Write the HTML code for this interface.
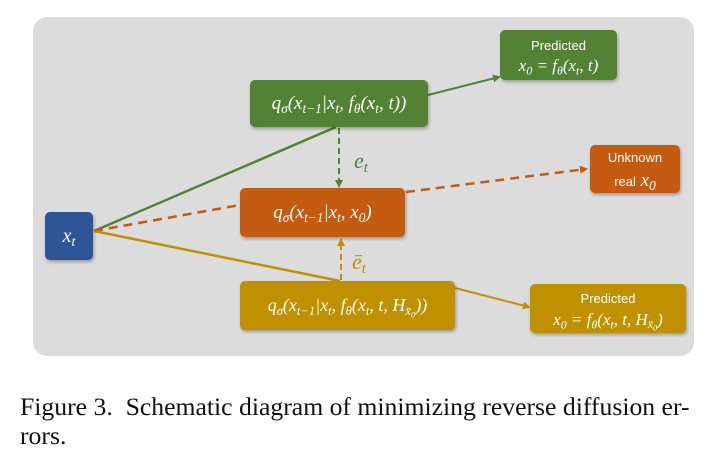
<!DOCTYPE html>
<html><head><style>
body{margin:0;background:#fff;width:711px;height:457px;overflow:hidden;position:relative;font-family:"Liberation Sans",sans-serif}
.p{position:absolute;left:33px;top:17px;width:661px;height:339px;background:#dcdcdc;border-radius:14px}
.b{position:absolute;border-radius:5px;color:#fff;display:flex;align-items:center;justify-content:center;text-align:center;box-shadow:1px 2px 3px rgba(0,0,0,.3);font-family:"Liberation Serif",serif;font-style:italic;font-size:19px;line-height:1.25;white-space:nowrap}
.b sub{font-size:70%;vertical-align:-0.3em;line-height:0}
.s{font-family:"Liberation Sans",sans-serif;font-style:normal;font-size:13px}
.g{background:#548235}.o{background:#c55a11}.y{background:#bf9000}.bl{background:#2f5597}
.cap{position:absolute;left:20px;font-family:"Liberation Serif",serif;font-size:25.7px;color:#111;white-space:nowrap}
</style></head><body>
<div class="p"></div>
<svg width="711" height="457" style="position:absolute;left:0;top:0">
<defs>
<marker id="mg" markerWidth="8" markerHeight="8" refX="6" refY="4" orient="auto" markerUnits="userSpaceOnUse"><path d="M0,0L8,4L0,8z" fill="#548235"/></marker>
<marker id="mo" markerWidth="8" markerHeight="8" refX="6" refY="4" orient="auto" markerUnits="userSpaceOnUse"><path d="M0,0L8,4L0,8z" fill="#c55a11"/></marker>
<marker id="my" markerWidth="8" markerHeight="8" refX="6" refY="4" orient="auto" markerUnits="userSpaceOnUse"><path d="M0,0L8,4L0,8z" fill="#bf9000"/></marker>
</defs>
<line x1="94" y1="231" x2="336" y2="127" stroke="#548235" stroke-width="2.5"/>
<line x1="428" y1="95" x2="499" y2="77" stroke="#548235" stroke-width="2" marker-end="url(#mg)"/>
<line x1="339" y1="128" x2="339" y2="186" stroke="#548235" stroke-width="2" stroke-dasharray="6,4" marker-end="url(#mg)"/>
<line x1="94" y1="231" x2="240" y2="205" stroke="#c55a11" stroke-width="2.5" stroke-dasharray="9,6"/>
<line x1="406" y1="192" x2="586" y2="169" stroke="#c55a11" stroke-width="2.5" stroke-dasharray="9,6" marker-end="url(#mo)"/>
<line x1="94" y1="231" x2="340" y2="281" stroke="#bf9000" stroke-width="2.5"/>
<line x1="455" y1="288" x2="529" y2="307" stroke="#bf9000" stroke-width="2" marker-end="url(#my)"/>
<line x1="341" y1="280" x2="341" y2="240" stroke="#bf9000" stroke-width="2" stroke-dasharray="6,4" marker-end="url(#my)"/>
<text x="354" y="168" font-family="Liberation Serif" font-style="italic" font-size="22" fill="#548235">e<tspan font-size="15" dy="4">t</tspan></text>
<text x="352" y="269" font-family="Liberation Serif" font-style="italic" font-size="22" fill="#bf9000">ē<tspan font-size="15" dy="4">t</tspan></text>
</svg>
<div class="b g" style="left:250px;top:80px;width:178px;height:47px"><span>q<sub>σ</sub>(x<sub>t−1</sub>|x<sub>t</sub>, f<sub>θ</sub>(x<sub>t</sub>, t))</span></div>
<div class="b g" style="left:500px;top:30px;width:117px;height:50px;font-size:17px"><div><span class="s">Predicted</span><br>x<sub>0</sub> = f<sub>θ</sub>(x<sub>t</sub>, t)</div></div>
<div class="b o" style="left:240px;top:188px;width:165px;height:49px"><span>q<sub>σ</sub>(x<sub>t−1</sub>|x<sub>t</sub>, x<sub>0</sub>)</span></div>
<div class="b o" style="left:590px;top:145px;width:90px;height:48px"><div><span class="s">Unknown</span><br><span class="s">real</span> x<sub>0</sub></div></div>
<div class="b bl" style="left:45px;top:212px;width:48px;height:48px;font-size:20px"><span>x<sub>t</sub></span></div>
<div class="b y" style="left:240px;top:281px;width:215px;height:49px;font-size:18px"><span>q<sub>σ</sub>(x<sub>t−1</sub>|x<sub>t</sub>, f<sub>θ</sub>(x<sub>t</sub>, t, H<sub>x̄<sub>0</sub></sub>))</span></div>
<div class="b y" style="left:530px;top:284px;width:156px;height:49px;font-size:17px"><div><span class="s">Predicted</span><br>x<sub>0</sub> = f<sub>θ</sub>(x<sub>t</sub>, t, H<sub>x̄<sub>0</sub></sub>)</div></div>
<div class="cap" style="top:392px">Figure 3.&nbsp; Schematic diagram of minimizing reverse diffusion er-</div>
<div class="cap" style="top:421px">rors.</div>
</body></html>
